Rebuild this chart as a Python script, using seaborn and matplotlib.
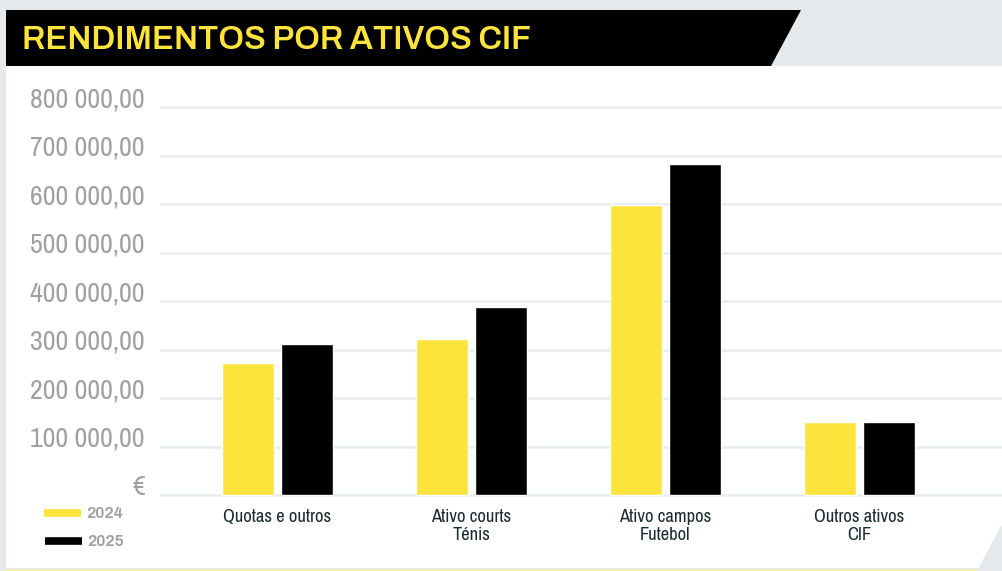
import matplotlib
matplotlib.use("Agg")
import matplotlib.pyplot as plt
from matplotlib.lines import Line2D
from matplotlib.patches import Polygon, Rectangle
import pandas as pd
import seaborn as sns

W, H = 1003, 571

categorias = ["Quotas e outros", "Ativo courts\nTénis", "Ativo campos\nFutebol", "Outros ativos\nCIF"]
anos = ["2024", "2025"]
valores_2024 = [272000, 322000, 598000, 150000]
valores_2025 = [311000, 388000, 682000, 150000]
y_ticks = [0, 100000, 200000, 300000, 400000, 500000, 600000, 700000, 800000]
y_labels = ["€", "100 000,00", "200 000,00", "300 000,00", "400 000,00",
            "500 000,00", "600 000,00", "700 000,00", "800 000,00"]
titulo = "RENDIMENTOS POR ATIVOS CIF"

AMARELO = "#fde43d"
PRETO = "#000000"
FUNDO = "#e5e9ec"
CINZA_TXT = "#a0a0a0"
NARROW = ["Archivo Narrow", "DejaVu Sans"]
BOLD = ["Archivo", "Liberation Sans", "DejaVu Sans"]

df = pd.DataFrame({
    "categoria": categorias * 2,
    "ano": [anos[0]] * len(categorias) + [anos[1]] * len(categorias),
    "valor": valores_2024 + valores_2025,
})

sns.set_theme(style="white")
plt.rcParams["font.family"] = NARROW


def fx(px):
    return px / W


def fy(py):
    return 1 - py / H


fig = plt.figure(figsize=(W / 100, H / 100), dpi=100, facecolor=FUNDO)

# painel branco, faixa do título e detalhes do fundo
fundo_kw = dict(transform=fig.transFigure, edgecolor="none", zorder=-5)
fig.patches.append(Rectangle((fx(6), fy(568)), fx(1003) - fx(6), fy(66) - fy(568),
                             facecolor="white", **fundo_kw))
fig.patches.append(Rectangle((fx(6), fy(571)), fx(1003) - fx(6), fy(568.5) - fy(571),
                             facecolor="#f6efb4", **fundo_kw))
fig.patches.append(Polygon([(fx(977), fy(571)), (fx(1003), fy(522)), (fx(1003), fy(571))],
                           facecolor=FUNDO, **fundo_kw))
fig.patches.append(Polygon([(fx(6), fy(10)), (fx(801), fy(10)), (fx(771), fy(66)), (fx(6), fy(66))],
                           facecolor=PRETO, **fundo_kw))
fig.text(fx(22), fy(40), titulo, color=AMARELO, fontsize=23.5, fontweight="bold",
         family=BOLD, va="center", ha="left")

# eixo: 48.5 px por 100 000, zero em y=495 px
ymin, ymax = -6000, 812000
scale = 48.5 / 100000
top_px = 495 - ymax * scale
bot_px = 495 - ymin * scale
x0_px, step_px = 277.5, 194
xmin = -(x0_px - 160) / step_px
xmax = (1003 - x0_px) / step_px
ax = fig.add_axes([fx(160), fy(bot_px), fx(1003) - fx(160), fy(top_px) - fy(bot_px)])
ax.set_zorder(2)
ax.patch.set_visible(False)

sns.barplot(data=df, x="categoria", y="valor", hue="ano", palette=[AMARELO, PRETO],
            saturation=1, width=0.608, gap=0.1186, legend=False, ax=ax)

ax.set_xlim(xmin, xmax)
ax.set_ylim(ymin, ymax)
ax.set_yticks(y_ticks)
ax.set_yticklabels(y_labels, fontsize=20, color=CINZA_TXT)
for lbl in ax.get_yticklabels():
    lbl.set_verticalalignment("baseline")
ax.set_xticks(range(len(categorias)))
ax.set_xticklabels(categorias, fontsize=13.3, color="#1c2a32", linespacing=1.12)
ax.tick_params(axis="y", length=0, pad=11)
ax.tick_params(axis="x", length=0, pad=8)
ax.yaxis.grid(True, color="#e7ecec", linewidth=1.8)
ax.xaxis.grid(False)
ax.set_axisbelow(True)
for s in ax.spines.values():
    s.set_visible(False)
ax.set_xlabel("")
ax.set_ylabel("")

# legenda
for ano, cor, (x1, x2, yy) in zip(anos, [AMARELO, PRETO], [(44, 81, 513), (45, 82, 541)]):
    fig.add_artist(Line2D([fx(x1), fx(x2)], [fy(yy), fy(yy)], transform=fig.transFigure,
                          color=cor, linewidth=5.5, solid_capstyle="butt"))
    fig.text(fx(x2 + 5), fy(yy), ano, color=CINZA_TXT, fontsize=11.5, fontweight="heavy",
             family=BOLD, va="center", ha="left")

fig.savefig("out.png", dpi=100, facecolor=FUNDO)
